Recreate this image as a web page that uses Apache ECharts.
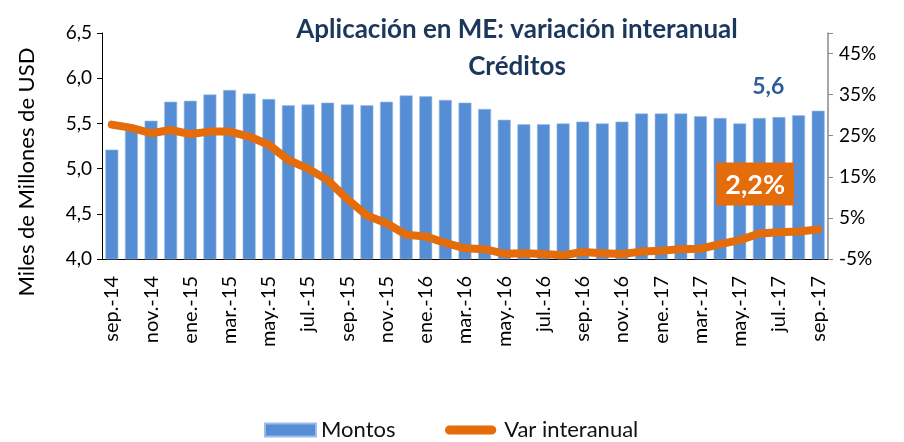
<!DOCTYPE html>
<html>
<head>
<meta charset="utf-8">
<script src="https://cdn.jsdelivr.net/npm/echarts@6/dist/echarts.min.js"></script>
<style>
  html, body { margin: 0; padding: 0; background: #fff; }
  #chart { width: 904px; height: 442px; }
</style>
</head>
<body>
<div id="chart"></div>
<script>
// meses sep-14 .. sep-17
const months = [
  'sep.-14', 'oct.-14', 'nov.-14', 'dic.-14', 'ene.-15', 'feb.-15', 'mar.-15', 'abr.-15',
  'may.-15', 'jun.-15', 'jul.-15', 'ago.-15', 'sep.-15', 'oct.-15', 'nov.-15', 'dic.-15',
  'ene.-16', 'feb.-16', 'mar.-16', 'abr.-16', 'may.-16', 'jun.-16', 'jul.-16', 'ago.-16',
  'sep.-16', 'oct.-16', 'nov.-16', 'dic.-16', 'ene.-17', 'feb.-17', 'mar.-17', 'abr.-17',
  'may.-17', 'jun.-17', 'jul.-17', 'ago.-17', 'sep.-17'
];
// Montos (miles de millones USD)
const montos = [
  5.21, 5.42, 5.53, 5.74, 5.75, 5.82, 5.87, 5.83,
  5.77, 5.70, 5.71, 5.73, 5.71, 5.70, 5.74, 5.81,
  5.80, 5.76, 5.73, 5.66, 5.54, 5.49, 5.49, 5.50,
  5.52, 5.50, 5.52, 5.61, 5.61, 5.61, 5.58, 5.56,
  5.50, 5.56, 5.57, 5.59, 5.64
];
// Var interanual (%)
const varInteranual = [
  27.7, 26.9, 25.6, 26.4, 25.4, 26.0, 26.0, 24.8,
  22.8, 19.1, 17.0, 14.2, 9.6, 5.6, 3.7, 0.9,
  0.5, -1.1, -2.4, -2.6, -3.7, -3.6, -3.8, -4.1,
  -3.3, -3.6, -3.8, -3.2, -3.0, -2.6, -2.5, -1.4,
  -0.4, 1.2, 1.5, 1.7, 2.2
];
const leftTicks = [4.0, 4.5, 5.0, 5.5, 6.0, 6.5];
const rightTicks = [-5, 5, 15, 25, 35, 45];

const FONT = 'Lato';
const navy = '#1B375C';
const blue = '#558ED5';
const orange = '#E46C0A';

const chart = echarts.init(document.getElementById('chart'));

const last = montos.length - 1;

chart.setOption({
  animation: false,
  textStyle: { fontFamily: FONT },
  title: {
    text: 'Aplicación en ME: variación interanual\nCréditos',
    left: 512,
    textAlign: 'center',
    top: 6,
    textStyle: { color: navy, fontSize: 26, fontWeight: 'bold', lineHeight: 37, fontFamily: FONT }
  },
  legend: [
    {
      data: ['Montos'],
      left: 259, top: 414,
      itemWidth: 51, itemHeight: 13, itemGap: 5,
      icon: 'rect',
      textStyle: { fontSize: 22, color: '#111', fontFamily: FONT }
    },
    {
      data: ['Var interanual'],
      left: 440, top: 414,
      itemWidth: 57, itemHeight: 9,
      icon: 'path://M5,0 L52,0 A5,5 0 0 1 52,10 L5,10 A5,5 0 0 1 5,0 Z',
      textStyle: { fontSize: 22, color: '#111', fontFamily: FONT }
    }
  ],
  grid: { left: 102, right: 76, top: 33, bottom: 183 },
  xAxis: {
    type: 'category',
    data: months,
    axisLine: { onZero: false, lineStyle: { color: '#000', width: 1 } },
    axisTick: { interval: 1, length: 6, lineStyle: { color: '#000' } },
    axisLabel: {
      interval: 1, rotate: 90, margin: 17,
      fontSize: 20, color: '#000', fontFamily: FONT
    }
  },
  yAxis: [
    {
      type: 'value',
      min: leftTicks[0], max: leftTicks[leftTicks.length - 1], interval: 0.5,
      name: 'Miles de Millones de USD',
      nameLocation: 'middle', nameRotate: 90, nameGap: 64,
      nameTextStyle: { fontSize: 22, color: '#000', fontFamily: FONT, padding: [0, 52, 0, 0] },
      axisLine: { show: true, lineStyle: { color: '#000' } },
      axisTick: { show: true, inside: false, length: 5, lineStyle: { color: '#000' } },
      splitLine: { show: false },
      axisLabel: {
        fontSize: 19, color: '#000', margin: 10,
        formatter: v => v.toFixed(1).replace('.', ',')
      }
    },
    {
      type: 'value',
      position: 'right',
      min: rightTicks[0], max: 50, interval: 10,
      axisLine: { show: true, lineStyle: { color: '#888', width: 1.5 } },
      axisTick: { show: true, length: 5, lineStyle: { color: '#888' } },
      splitLine: { show: false },
      axisLabel: {
        fontSize: 19, color: '#000', margin: 11,
        formatter: v => (rightTicks.indexOf(v) >= 0 ? v + '%' : '')
      }
    }
  ],
  series: [
    {
      name: 'Montos',
      type: 'bar',
      yAxisIndex: 0,
      barCategoryGap: '34%',
      itemStyle: { color: blue, borderColor: '#9DBDE8', borderWidth: 0.6 },
      data: montos.map((v, i) => i === last ? {
        value: v,
        label: {
          show: true, position: 'top', offset: [-50, -8],
          formatter: p => p.value.toFixed(1).replace('.', ','),
          color: '#2E5D97', fontSize: 23, fontWeight: 'bold', fontFamily: FONT
        }
      } : v)
    },
    {
      name: 'Var interanual',
      type: 'line',
      yAxisIndex: 1,
      z: 5,
      symbol: 'circle', symbolSize: 0, showSymbol: true,
      itemStyle: { color: orange },
      lineStyle: { color: orange, width: 8, cap: 'round', join: 'round' },
      data: varInteranual.map((v, i) => i === last ? {
        value: v,
        label: {
          show: true, position: 'top', offset: [-63, -19],
          formatter: p => p.value.toFixed(1).replace('.', ',') + '%',
          backgroundColor: orange, color: '#fff',
          padding: [9, 9, 7, 9],
          fontSize: 27, fontWeight: 'bold', fontFamily: FONT
        }
      } : v)
    }
  ]
});
</script>
</body>
</html>
